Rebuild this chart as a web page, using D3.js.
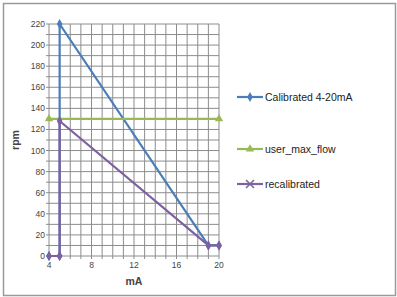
<!DOCTYPE html>
<html>
<head>
<meta charset="utf-8">
<script src="https://cdn.jsdelivr.net/npm/d3@7"></script>
<style>
  body { margin: 0; background: #fff; }
  text { font-family: "Liberation Sans", Arial, sans-serif; }
</style>
</head>
<body>
<div id="chart"></div>
<script>
// series data
const calibX = [4, 5, 5, 19, 20];
const calibY = [0, 0, 220, 10, 10];
const maxFlowX = [4, 20];
const maxFlowY = [130, 130];
const recalX = [4, 5, 5, 19, 20];
const recalY = [0, 0, 128, 10, 10];

const xTicks = [4, 8, 12, 16, 20];
const yTicks = [0, 20, 40, 60, 80, 100, 120, 140, 160, 180, 200, 220];
const seriesNames = ["Calibrated 4-20mA", "user_max_flow", "recalibrated"];
const seriesColors = ["#4a7ebb", "#98b954", "#7d60a0"];

const W = 397, H = 297;

const svg = d3.select("#chart")
  .append("svg")
    .attr("width", W)
    .attr("height", H);

// outer frame
svg.append("rect")
  .attr("x", 3.5).attr("y", 3.5)
  .attr("width", W - 5).attr("height", H - 5)
  .attr("fill", "#fff")
  .attr("stroke", "#9a9a9a")
  .attr("stroke-width", 1.5);

const x = d3.scaleLinear().domain([4, 20]).range([49, 219]);
const y = d3.scaleLinear().domain([0, 220]).range([256, 24]);

// grid: minor every 1 mA and every 10 rpm
const g = svg.append("g");
g.selectAll(".vg")
  .data(d3.range(4, 21, 1))
  .enter()
  .append("line")
    .attr("x1", d => x(d)).attr("x2", d => x(d))
    .attr("y1", y(220)).attr("y2", y(0) + 3)
    .attr("stroke", "#8c8c8c")
    .attr("stroke-width", 1);

g.selectAll(".hg")
  .data(d3.range(0, 221, 10))
  .enter()
  .append("line")
    .attr("x1", x(4) - 3).attr("x2", x(20))
    .attr("y1", d => y(d)).attr("y2", d => y(d))
    .attr("stroke", "#8c8c8c")
    .attr("stroke-width", 1);

// tick labels
svg.append("g")
  .selectAll("text")
  .data(yTicks)
  .enter()
  .append("text")
    .attr("x", x(4) - 4)
    .attr("y", d => y(d) + 3)
    .attr("text-anchor", "end")
    .attr("font-size", 8.5)
    .attr("fill", "#444")
    .text(d => d);

svg.append("g")
  .selectAll("text")
  .data(xTicks)
  .enter()
  .append("text")
    .attr("x", d => x(d))
    .attr("y", y(0) + 12)
    .attr("text-anchor", "middle")
    .attr("font-size", 8.5)
    .attr("fill", "#444")
    .text(d => d);

// axis titles
svg.append("text")
  .attr("x", (x(4) + x(20)) / 2)
  .attr("y", 285)
  .attr("text-anchor", "middle")
  .attr("font-size", 10.5)
  .attr("font-weight", "bold")
  .attr("fill", "#444")
  .text("mA");

svg.append("text")
  .attr("transform", "translate(19,140) rotate(-90)")
  .attr("text-anchor", "middle")
  .attr("font-size", 10.5)
  .attr("font-weight", "bold")
  .attr("fill", "#444")
  .text("rpm");

const line = d3.line().x(d => x(d[0])).y(d => y(d[1]));
const zip = (a, b) => a.map((v, i) => [v, b[i]]);

const calibData = zip(calibX, calibY);
const maxFlowData = zip(maxFlowX, maxFlowY);
const recalData = zip(recalX, recalY);

function drawMarker(sel, kind, color) {
  if (kind === "diamond") {
    sel.append("path")
      .attr("d", d3.symbol(d3.symbolDiamond, 28)())
      .attr("fill", color);
  } else if (kind === "triangle") {
    sel.append("path")
      .attr("d", d3.symbol(d3.symbolTriangle, 30)())
      .attr("fill", color);
  } else {
    sel.append("path")
      .attr("d", "M-4,-4L4,4M-4,4L4,-4")
      .attr("stroke", color)
      .attr("stroke-width", 1.6)
      .attr("fill", "none");
  }
}

const allSeries = [
  {data: calibData, color: seriesColors[0], marker: "diamond"},
  {data: maxFlowData, color: seriesColors[1], marker: "triangle"},
  {data: recalData, color: seriesColors[2], marker: "x"}
];

allSeries.forEach(s => {
  svg.append("path")
    .datum(s.data)
    .attr("d", line)
    .attr("fill", "none")
    .attr("stroke", s.color)
    .attr("stroke-width", 2.2);
});

allSeries.forEach(s => {
  s.data.forEach(p => {
    const m = svg.append("g")
      .attr("transform", "translate(" + x(p[0]) + "," + y(p[1]) + ")");
    drawMarker(m, s.marker === "x" ? "diamond" : s.marker, s.color);
  });
});

// legend
const legendY = [97, 149, 184];
seriesNames.forEach((name, i) => {
  const lg = svg.append("g").attr("transform", "translate(237," + legendY[i] + ")");
  lg.append("line")
    .attr("x1", 0).attr("x2", 26)
    .attr("stroke", seriesColors[i])
    .attr("stroke-width", 2.2);
  const m = lg.append("g").attr("transform", "translate(13,0)");
  drawMarker(m, allSeries[i].marker, seriesColors[i]);
  lg.append("text")
    .attr("x", 28)
    .attr("y", 4)
    .attr("font-size", 10.5)
    .attr("fill", "#222")
    .text(name);
});
</script>
</body>
</html>
